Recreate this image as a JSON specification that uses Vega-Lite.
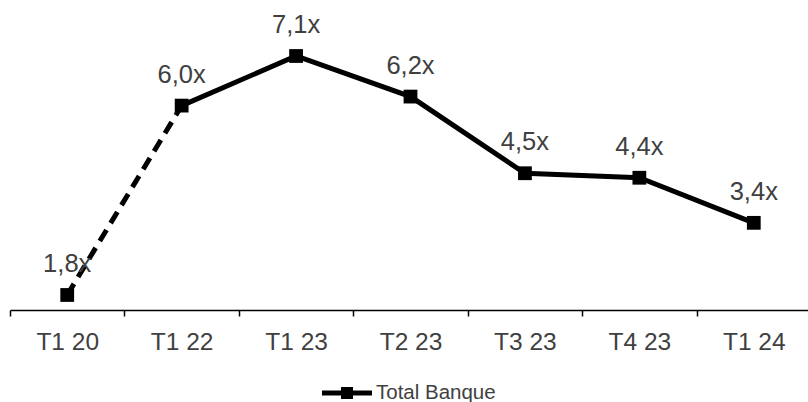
{
  "$schema": "https://vega.github.io/schema/vega-lite/v6.json",
  "autosize": "none",
  "width": 798,
  "height": 310,
  "padding": {"left": 10, "top": 0, "right": 0, "bottom": 92},
  "background": "white",
  "config": {
    "view": {"stroke": null},
    "font": "Liberation Sans",
    "locale": {
      "number": {"decimal": ",", "thousands": ".", "grouping": [3], "currency": ["", "x"]}
    }
  },
  "data": {
    "values": [
      {"periode": "T1 20", "ratio": 1.8, "serie": "Total Banque"},
      {"periode": "T1 22", "ratio": 6.0, "serie": "Total Banque"},
      {"periode": "T1 23", "ratio": 7.1, "serie": "Total Banque"},
      {"periode": "T2 23", "ratio": 6.2, "serie": "Total Banque"},
      {"periode": "T3 23", "ratio": 4.5, "serie": "Total Banque"},
      {"periode": "T4 23", "ratio": 4.4, "serie": "Total Banque"},
      {"periode": "T1 24", "ratio": 3.4, "serie": "Total Banque"}
    ]
  },
  "encoding": {
    "x": {
      "field": "periode",
      "type": "ordinal",
      "sort": null,
      "scale": {"type": "band", "range": [0, 801], "paddingInner": 0, "paddingOuter": 0},
      "axis": {
        "title": null,
        "labelAngle": 0,
        "labelFont": "Liberation Sans",
        "labelFontSize": 24.5,
        "labelColor": "#404040",
        "labelPadding": 14,
        "tickBand": "extent",
        "tickSize": 6,
        "tickColor": "#000000",
        "tickWidth": 1.5,
        "domainColor": "#000000",
        "domainWidth": 1.5,
        "grid": false
      }
    },
    "y": {
      "field": "ratio",
      "type": "quantitative",
      "scale": {"domain": [1.467, 8.342], "nice": false, "zero": false},
      "axis": null
    }
  },
  "layer": [
    {
      "transform": [{"filter": {"field": "periode", "oneOf": ["T1 20", "T1 22"]}}],
      "mark": {"type": "line", "color": "#000000", "strokeWidth": 5, "strokeDash": [13, 8]}
    },
    {
      "transform": [{"filter": {"not": {"field": "periode", "equal": "T1 20"}}}],
      "mark": {"type": "line", "color": "#000000", "strokeWidth": 5, "strokeJoin": "miter"}
    },
    {
      "mark": {"type": "point", "shape": "square", "filled": true, "size": 190, "opacity": 1},
      "encoding": {
        "color": {
          "field": "serie",
          "type": "nominal",
          "scale": {"range": ["#000000"]},
          "legend": {
            "title": null,
            "orient": "none",
            "legendX": 312,
            "legendY": 368,
            "padding": 0,
            "symbolType": "M-1,-0.1L1,-0.1L1,0.1L-1,0.1ZM-0.24,-0.24L0.24,-0.24L0.24,0.24L-0.24,0.24Z",
            "symbolSize": 2500,
            "symbolStrokeWidth": 0,
            "symbolOpacity": 1,
            "labelFont": "Liberation Sans",
            "labelFontSize": 20.5,
            "labelColor": "#404040",
            "labelOffset": 4
          }
        }
      }
    },
    {
      "mark": {"type": "text", "font": "Liberation Sans", "fontSize": 25.5, "color": "#404040", "baseline": "alphabetic", "align": "center", "dy": -23},
      "encoding": {
        "text": {"field": "ratio", "type": "quantitative", "format": "$.1f"}
      }
    }
  ]
}
